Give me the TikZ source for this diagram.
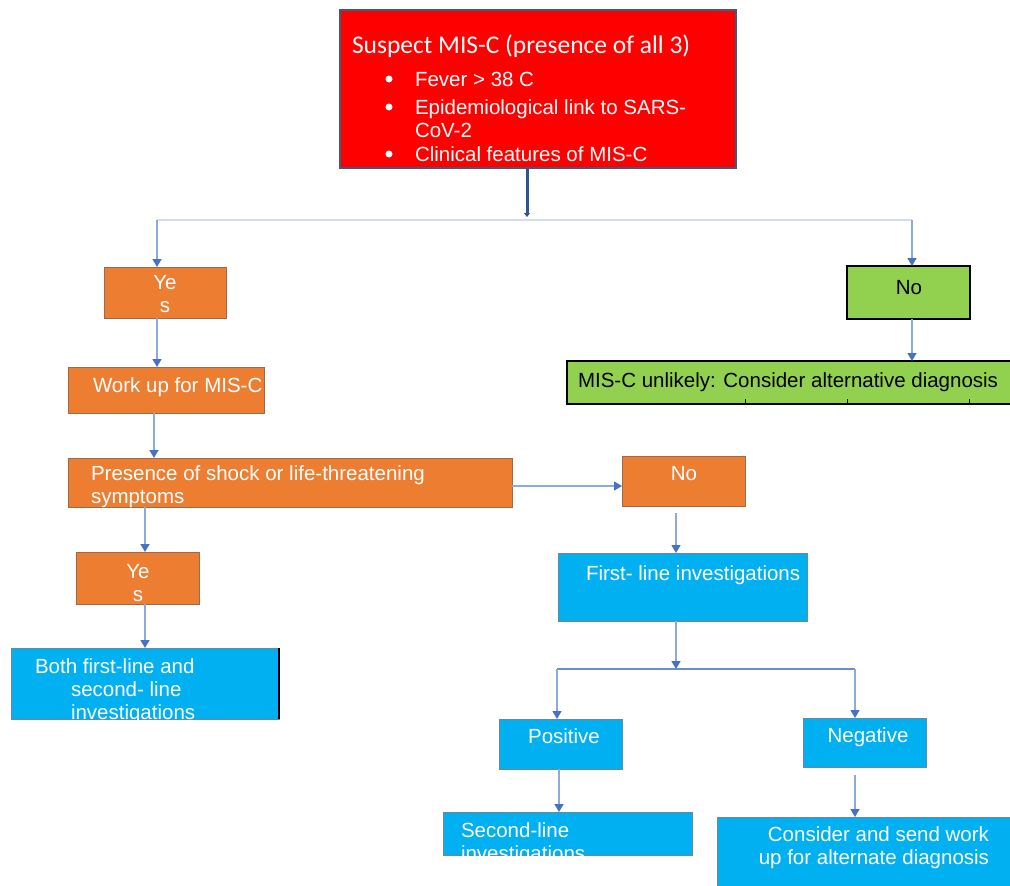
\documentclass[tikz,border=0pt]{standalone}
\usepackage{fontspec}
\setmainfont{Liberation Sans}
\newfontfamily\titlefont{Carlito}
\usetikzlibrary{arrows.meta}
\definecolor{redbox}{HTML}{FF0000}
\definecolor{orangebox}{HTML}{ED7D31}
\definecolor{greenbox}{HTML}{92D050}
\definecolor{bluebox}{HTML}{00B0F0}
\definecolor{arrowc}{HTML}{4472C4}
\definecolor{linec}{HTML}{8EA9DB}
\definecolor{darkline}{HTML}{2F5597}
\definecolor{pale}{HTML}{D0DCF2}
\definecolor{redborder}{HTML}{41597A}
\definecolor{orangeborder}{HTML}{9A6A4A}
\definecolor{blueborder}{HTML}{6E8796}
\tikzset{
  box/.style={rectangle, anchor=north west, inner sep=0pt, outer sep=0pt, line width=1pt},
  obox/.style={box, fill=orangebox, draw=orangeborder},
  gbox/.style={box, fill=greenbox, draw=black, line width=2pt},
  bbox/.style={box, fill=bluebox, draw=blueborder},
  rbox/.style={box, fill=redbox, draw=redborder, line width=2pt},
  txt/.style={inner sep=0pt, outer sep=0pt, font=\fontsize{20.5}{23}\selectfont, text=white},
  conn/.style={draw=linec, line width=1.4pt, -{Triangle[width=9pt,length=8pt,color=arrowc,fill=arrowc]}},
}
\begin{document}
\begin{tikzpicture}[x=1pt,y=-1pt]
\clip (0,0) rectangle (1010,886);
\fill[white] (0,0) rectangle (1010,886);

% boxes
\node[rbox, minimum width=396pt, minimum height=158pt] (top) at (340,10) {};
\node[obox, minimum width=122pt, minimum height=51pt] (yes1) at (104,267) {};
\node[obox, minimum width=196pt, minimum height=46pt] (work) at (68,367) {};
\node[obox, minimum width=444pt, minimum height=49pt] (pres) at (68,458) {};
\node[obox, minimum width=123pt, minimum height=52pt] (yes2) at (76,552) {};
\node[bbox, minimum width=268pt, minimum height=71pt] (both) at (11,648) {};
\node[gbox, minimum width=123pt, minimum height=53pt] (nog) at (847,266) {};
\node[gbox, minimum width=447pt, minimum height=43pt] (unl) at (567,361) {};
\node[obox, minimum width=123pt, minimum height=50pt] (no2) at (622,456) {};
\node[bbox, minimum width=249pt, minimum height=68pt] (first) at (558,553) {};
\node[bbox, minimum width=123pt, minimum height=50pt] (pos) at (499,719) {};
\node[bbox, minimum width=123pt, minimum height=49pt] (neg) at (803,718) {};
\node[bbox, minimum width=249pt, minimum height=43pt] (second) at (443,812) {};
\node[bbox, minimum width=297pt, minimum height=73pt] (cons) at (717,817) {};
\draw[black, line width=2pt] (both.north east) -- (both.south east);
\foreach \tx in {745,847,969} \draw[black, line width=1pt] (\tx,399) -- (\tx,404);

% top box text
\node[txt, anchor=base west, font=\titlefont\fontsize{25.5}{30}\selectfont] (title) at (352,53) {Suspect MIS-C (presence of all 3)};
\node[txt, anchor=base west] (b1) at (415,86) {Fever > 38 C};
\node[txt, anchor=base west] (b2) at (415,114) {Epidemiological link to SARS-};
\node[txt, anchor=base west] (b2b) at (415,137) {CoV-2};
\node[txt, anchor=base west] (b3) at (415,161) {Clinical features of MIS-C};
\foreach \by in {79,107,154} \fill[white] (389,\by) circle (3.5);

% other texts
\node[txt, anchor=base] (yes1a) at (165,289) {Ye};
\node[txt, anchor=base] (yes1b) at (165,312) {s};
\node[txt, anchor=base west] (workt) at (93,392) {Work up for MIS-C};
\node[txt, anchor=base west] (prest) at (91,480) {Presence of shock or life-threatening};
\node[txt, anchor=base west] (prest2) at (91,503) {symptoms};
\node[txt, anchor=base] (yes2a) at (138,578) {Ye};
\node[txt, anchor=base] (yes2b) at (138,601) {s};
\begin{scope}
\clip (both.north west) rectangle (both.south east);
\node[txt, anchor=base west] (botha) at (35,673) {Both first-line and};
\node[txt, anchor=base west] (bothb) at (71,696) {second- line};
\node[txt, anchor=base west] (bothc) at (71,719) {investigations};
\end{scope}
\node[txt, anchor=base, text=black] (nogt) at (909,294) {No};
\node[txt, anchor=base west, text=black] (unlt) at (578,387) {MIS-C unlikely: Consider alternative diagnosis};
\node[txt, anchor=base] (no2t) at (684,480) {No};
\node[txt, anchor=base west] (firstt) at (586,580) {First- line investigations};
\node[txt, anchor=base] (post) at (564,743) {Positive};
\node[txt, anchor=base] (negt) at (868,742) {Negative};
\begin{scope}
\clip (second.north west) rectangle (second.south east);
\node[txt, anchor=base west] (seca) at (461,837) {Second-line};
\node[txt, anchor=base west] (secb) at (461,860) {investigations};
\end{scope}
\node[txt, anchor=base east] (consa) at (989,841) {Consider and send work};
\node[txt, anchor=base east] (consb) at (989,864) {up for alternate diagnosis};

% connectors
\coordinate (hlL) at (157,220);
\coordinate (hlR) at (912,220);
\coordinate (hlM) at (527,217);
\draw[darkline, line width=3pt, -{Triangle[width=6pt,length=4pt]}] (527,0 |- top.south) -- (hlM);
\draw[pale, line width=2pt] (hlL) -- (hlR);
\draw[conn] (hlL) -- (157,0 |- yes1.north);
\draw[conn] (hlR) -- (912,0 |- nog.north);
\draw[conn] (157,0 |- yes1.south) -- (157,0 |- work.north);
\draw[conn] (154,0 |- work.south) -- (154,0 |- pres.north);
\draw[conn] (pres.east |- 0,486) -- (no2.west |- 0,486);
\draw[conn] (145,0 |- pres.south) -- (145,0 |- yes2.north);
\draw[conn] (145,0 |- yes2.south) -- (145,0 |- both.north);
\draw[conn] (912,0 |- nog.south) -- (912,0 |- unl.north);
\coordinate (no2gap) at (676,513);
\draw[conn] (no2gap) -- (676,0 |- first.north);
\coordinate (hl2M) at (676,669);
\coordinate (hl2L) at (557,669);
\coordinate (hl2R) at (855,669);
\draw[conn] (676,0 |- first.south) -- (hl2M);
\draw[draw=arrowc!80, line width=1.4pt] (hl2L) -- (hl2R);
\draw[conn] (hl2L) -- (557,0 |- pos.north);
\draw[conn] (hl2R) -- (855,0 |- neg.north);
\draw[conn] (559,0 |- pos.south) -- (559,0 |- second.north);
\coordinate (neggap) at (855,775);
\draw[conn] (neggap) -- (855,0 |- cons.north);
\end{tikzpicture}
\end{document}
